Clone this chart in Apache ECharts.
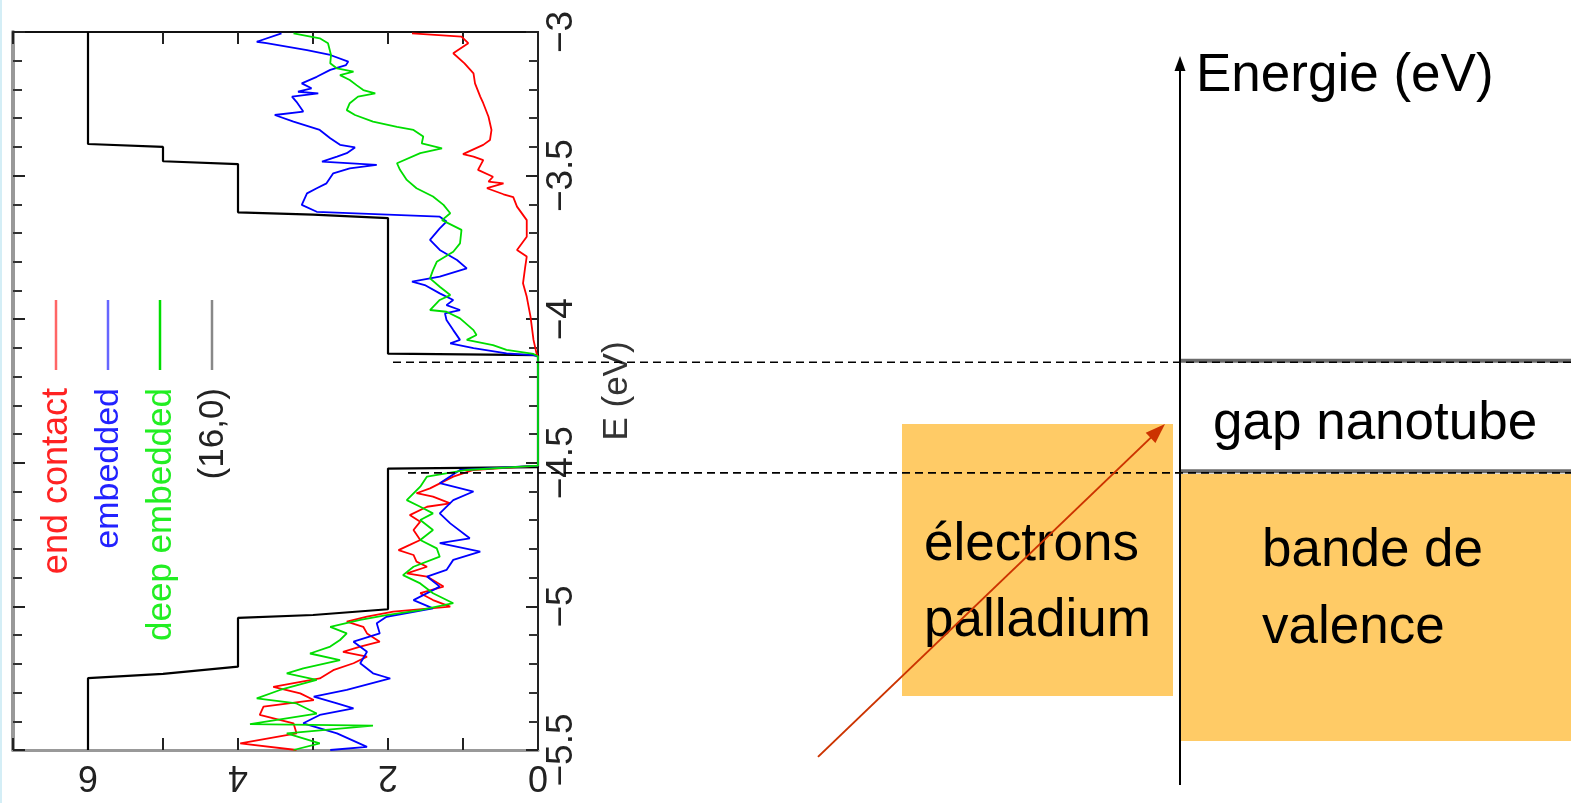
<!DOCTYPE html>
<html><head><meta charset="utf-8">
<script src="https://cdn.jsdelivr.net/npm/echarts@6/dist/echarts.min.js"></script>
<style>html,body{margin:0;padding:0;background:#fff}#c{width:1571px;height:803px}</style>
</head><body><div id="c"></div>
<script>
// ---- data ----
const energyRange = [-5.5, -3];
const dosRange = [0, 7];
const seriesNames = ['end contact', 'embedded', 'deep embedded', '(16,0)'];
const seriesColors = ['#ff0000', '#0000ff', '#00dd00', '#000000'];

// (16,0) nanotube step DOS: [DOS, E]
const tube16_0 = [[6,-3],[6,-3.39],[5,-3.40],[5,-3.45],[4,-3.46],[4,-3.628],[3,-3.636],[2,-3.648],[2,-4.12],[0,-4.125],[0,-4.515],[2,-4.52],[2,-5.01],[3,-5.03],[4,-5.04],[4,-5.21],[5,-5.235],[6,-5.25],[6,-5.5]];

const endContact = [[1.68,-3.005],[1.02,-3.016],[0.93,-3.039],[1.13,-3.074],[0.98,-3.109],[0.86,-3.144],[0.84,-3.179],[0.77,-3.225],[0.73,-3.248],[0.66,-3.295],[0.62,-3.341],[0.64,-3.376],[0.73,-3.393],[1.00,-3.425],[0.86,-3.434],[0.73,-3.446],[0.80,-3.480],[0.60,-3.504],[0.66,-3.521],[0.46,-3.527],[0.68,-3.544],[0.46,-3.565],[0.33,-3.575],[0.28,-3.608],[0.15,-3.655],[0.15,-3.713],[0.28,-3.759],[0.15,-3.782],[0.17,-3.817],[0.20,-3.875],[0.15,-3.922],[0.10,-3.991],[0.06,-4.072],[0.02,-4.119],[0,-4.13],[0,-4.51],
  [0.86,-4.525],[1.13,-4.548],[1.44,-4.589],[1.62,-4.606],[1.40,-4.618],[1.17,-4.641],[1.48,-4.653],[1.71,-4.682],[1.57,-4.705],[1.66,-4.734],[1.57,-4.769],[1.71,-4.786],[1.86,-4.804],[1.66,-4.821],[1.62,-4.844],[1.48,-4.862],[1.75,-4.885],[1.48,-4.896],[1.26,-4.931],[1.57,-4.954],[1.40,-4.978],[1.17,-5.001],[1.93,-5.018],[2.28,-5.036],[2.55,-5.053],[2.33,-5.071],[2.28,-5.094],[2.11,-5.123],[2.37,-5.140],[2.60,-5.158],[2.28,-5.175],[2.46,-5.198],[2.73,-5.222],[2.91,-5.251],[3.53,-5.280],[3.17,-5.303],[2.99,-5.326],[3.66,-5.349],[3.71,-5.378],[3.26,-5.407],[3.22,-5.442],[3.97,-5.477],[3.22,-5.500]];

const embedded = [[3.42,-3.005],[3.75,-3.034],[3.62,-3.039],[3.08,-3.063],[2.77,-3.080],[2.53,-3.103],[2.56,-3.115],[2.77,-3.132],[2.95,-3.156],[3.15,-3.179],[3.02,-3.196],[3.20,-3.208],[2.93,-3.214],[3.28,-3.225],[3.22,-3.243],[3.13,-3.277],[3.51,-3.289],[3.26,-3.312],[2.91,-3.341],[2.77,-3.370],[2.64,-3.393],[2.44,-3.402],[2.55,-3.422],[2.68,-3.434],[2.88,-3.451],[2.15,-3.463],[2.51,-3.475],[2.73,-3.492],[2.82,-3.527],[2.95,-3.544],[3.08,-3.562],[3.15,-3.602],[2.95,-3.626],[1.31,-3.643],[1.22,-3.660],[1.31,-3.684],[1.44,-3.724],[1.31,-3.759],[1.08,-3.794],[0.95,-3.823],[1.31,-3.852],[1.68,-3.869],[1.51,-3.881],[1.31,-3.910],[1.13,-3.933],[1.22,-3.951],[1.04,-3.968],[1.24,-3.980],[1.22,-4.003],[1.13,-4.038],[1.04,-4.072],[1.17,-4.084],[0.86,-4.101],[0.42,-4.119],[0.06,-4.125],[0,-4.13],[0,-4.51],
  [1.04,-4.525],[1.31,-4.571],[0.86,-4.600],[1.13,-4.630],[1.31,-4.676],[1.17,-4.711],[0.91,-4.763],[1.31,-4.780],[0.77,-4.809],[1.13,-4.838],[1.22,-4.873],[1.48,-4.896],[1.31,-4.931],[1.66,-4.978],[1.40,-5.007],[2.02,-5.036],[2.15,-5.059],[2.11,-5.094],[2.46,-5.123],[2.28,-5.158],[2.37,-5.198],[2.20,-5.233],[1.97,-5.251],[2.55,-5.291],[2.99,-5.314],[2.68,-5.338],[2.46,-5.355],[2.91,-5.378],[3.13,-5.407],[2.68,-5.442],[2.28,-5.489],[2.77,-5.500]];

const deepEmbedded = [[3.26,-3.005],[2.91,-3.022],[2.80,-3.039],[2.76,-3.080],[2.77,-3.109],[2.68,-3.127],[2.46,-3.138],[2.64,-3.150],[2.51,-3.167],[2.42,-3.185],[2.33,-3.202],[2.17,-3.214],[2.40,-3.225],[2.51,-3.248],[2.55,-3.272],[2.44,-3.289],[2.20,-3.312],[1.88,-3.330],[1.66,-3.341],[1.53,-3.364],[1.55,-3.388],[1.28,-3.405],[1.57,-3.422],[1.88,-3.457],[1.84,-3.480],[1.75,-3.515],[1.62,-3.544],[1.40,-3.573],[1.26,-3.602],[1.17,-3.631],[1.28,-3.655],[1.02,-3.689],[1.04,-3.736],[1.13,-3.765],[1.35,-3.800],[1.40,-3.829],[1.44,-3.858],[1.31,-3.887],[1.17,-3.916],[1.31,-3.933],[1.44,-3.968],[1.22,-3.974],[1.04,-3.997],[0.86,-4.038],[0.82,-4.055],[0.95,-4.072],[0.60,-4.090],[0.42,-4.107],[0.06,-4.121],[0,-4.13],[0,-4.51],
  [0.95,-4.525],[1.48,-4.548],[1.57,-4.583],[1.75,-4.630],[1.57,-4.653],[1.40,-4.676],[1.57,-4.699],[1.40,-4.734],[1.57,-4.769],[1.35,-4.798],[1.31,-4.827],[1.66,-4.862],[1.80,-4.891],[1.57,-4.920],[1.40,-4.954],[1.13,-4.989],[1.57,-5.013],[2.02,-5.030],[2.37,-5.047],[2.77,-5.071],[2.55,-5.094],[2.64,-5.117],[2.77,-5.140],[3.04,-5.164],[2.64,-5.187],[3.13,-5.216],[3.35,-5.233],[2.95,-5.256],[3.44,-5.291],[3.75,-5.320],[3.22,-5.338],[2.95,-5.373],[3.84,-5.410],[2.20,-5.415],[3.35,-5.442],[2.91,-5.477],[3.26,-5.500]];

// schematic energies (eV)
const gapEdges = [-4.15, -4.535];           // dashed lines: nanotube gap
const palladiumBox = [-4.365, -5.312];       // top (Fermi level), bottom
const valenceBox = [-4.539, -5.469];
const arrowEnergies = [-5.524, -4.365];      // red arrow start / end
const diagramTexts = ['Energie (eV)', 'gap nanotube', 'électrons', 'palladium', 'bande de', 'valence'];

// ---- chart ----
const FONT = '"Liberation Sans", Arial, Helvetica, sans-serif';
const chart = echarts.init(document.getElementById('c'));
const fmtE = v => String(v).replace('-', '\u2212');
const tickStyle = {color: '#222', width: 2};

const option = {
  animation: false,
  backgroundColor: '#fff',
  grid: {left: 13, top: 32, width: 525, height: 718, containLabel: false, outerBoundsMode: 'none'},
  xAxis: [
    {type: 'value', position: 'bottom', min: dosRange[0], max: dosRange[1], interval: 1, inverse: true,
      axisLine: {show: true, onZero: false, lineStyle: {color: '#999', width: 3}},
      axisTick: {show: true, inside: true, length: 12, lineStyle: tickStyle},
      axisLabel: {rotate: 180, fontSize: 36, fontFamily: FONT, color: '#222', margin: 8,
        formatter: v => (v % 2 === 0) ? String(v) : ''},
      splitLine: {show: false}},
    {type: 'value', position: 'top', min: dosRange[0], max: dosRange[1], interval: 1, inverse: true,
      axisLine: {show: true, onZero: false, lineStyle: {color: '#111', width: 2}},
      axisTick: {show: true, inside: true, length: 12, lineStyle: tickStyle},
      axisLabel: {show: false}, splitLine: {show: false}}
  ],
  yAxis: [
    {type: 'value', position: 'right', min: energyRange[0], max: energyRange[1], interval: 0.5,
      axisLine: {show: true, onZero: false, lineStyle: {color: '#222', width: 2}},
      axisTick: {show: true, inside: true, length: 12, lineStyle: tickStyle},
      minorTick: {show: true, splitNumber: 5, length: 9, lineStyle: {color: '#333', width: 2}},
      axisLabel: {rotate: 90, fontSize: 37, fontFamily: FONT, color: '#222', margin: 5, formatter: fmtE},
      name: 'E (eV)', nameLocation: 'middle', nameRotate: 90, nameGap: 62,
      nameTextStyle: {fontSize: 35, fontFamily: FONT, color: '#333'},
      splitLine: {show: false}},
    {type: 'value', position: 'left', min: energyRange[0], max: energyRange[1], interval: 0.5,
      axisLine: {show: true, onZero: false, lineStyle: {color: '#999', width: 4}},
      axisTick: {show: true, inside: true, length: 12, lineStyle: tickStyle},
      minorTick: {show: true, splitNumber: 5, length: 9, lineStyle: {color: '#333', width: 2}},
      axisLabel: {show: false}, splitLine: {show: false}}
  ],
  series: [
    {name: seriesNames[3], type: 'line', data: tube16_0, showSymbol: false, symbol: 'none',
      lineStyle: {color: seriesColors[3], width: 2.2}, z: 2},
    {name: seriesNames[0], type: 'line', data: endContact, showSymbol: false, symbol: 'none',
      lineStyle: {color: seriesColors[0], width: 1.8}, z: 3},
    {name: seriesNames[1], type: 'line', data: embedded, showSymbol: false, symbol: 'none',
      lineStyle: {color: seriesColors[1], width: 1.8}, z: 4},
    {name: seriesNames[2], type: 'line', data: deepEmbedded, showSymbol: false, symbol: 'none',
      lineStyle: {color: seriesColors[2], width: 1.8}, z: 5}
  ]
};
chart.setOption(option);

// ---- overlay (legend + schematic) ----
const yPix = v => chart.convertToPixel({yAxisIndex: 0}, v);
const g = [];
g.push({type: 'rect', shape: {x: 0, y: 0, width: 2, height: 803}, style: {fill: '#d4eef6'}, z: 50});

// legend (rotated)
const legendX = [56, 108, 160, 212];
const legendLineColors = ['#ff6666', '#6666ff', '#00dd00', '#888888'];
const legendTextColors = ['#ff2222', '#2222ff', '#22ee22', '#222222'];
const legendFont = [36, 34, 35, 35];
[0, 1, 2, 3].forEach((si, i) => {
  const x = legendX[i];
  g.push({type: 'line', shape: {x1: x, y1: 300, x2: x, y2: 370}, style: {stroke: legendLineColors[i], lineWidth: 2.5}, z: 60});
  g.push({type: 'text', x: x + 1, y: 388, rotation: Math.PI / 2,
    style: {text: seriesNames[si], fill: legendTextColors[i], font: legendFont[i] + 'px ' + FONT, align: 'right', verticalAlign: 'middle'}, z: 60});
});

// schematic boxes
const boxColor = '#ffcb66';
g.push({type: 'rect', shape: {x: 902, y: yPix(palladiumBox[0]), width: 271, height: yPix(palladiumBox[1]) - yPix(palladiumBox[0])}, style: {fill: boxColor}, z: 40});
g.push({type: 'rect', shape: {x: 1181, y: yPix(valenceBox[0]), width: 390, height: yPix(valenceBox[1]) - yPix(valenceBox[0])}, style: {fill: boxColor}, z: 40});
gapEdges.forEach(e => {
  const y = yPix(e) - 1.5;
  g.push({type: 'line', shape: {x1: 1180, y1: y, x2: 1571, y2: y}, style: {stroke: '#6b6b6b', lineWidth: 4}, z: 41});
});
const dashStart = [393, 408];
gapEdges.forEach((e, i) => {
  const y = yPix(e);
  g.push({type: 'line', shape: {x1: dashStart[i], y1: y, x2: 1571, y2: y}, style: {stroke: '#000', lineWidth: 1.6, lineDash: [8, 5]}, z: 45});
});
g.push({type: 'line', shape: {x1: 1180, y1: 785, x2: 1180, y2: 66}, style: {stroke: '#000', lineWidth: 2}, z: 46});
g.push({type: 'polygon', shape: {points: [[1180, 56], [1174.5, 71], [1185.5, 71]]}, style: {fill: '#000'}, z: 46});

// texts
const txt = (t, x, baseline) => g.push({type: 'text', x: x, y: baseline - 16.5,
  style: {text: t, fill: '#000', font: '53px ' + FONT, align: 'left', verticalAlign: 'middle'}, z: 47});
txt(diagramTexts[0], 1196, 93);
txt(diagramTexts[1], 1213, 441);
txt(diagramTexts[2], 924, 562);
txt(diagramTexts[3], 924, 638);
txt(diagramTexts[4], 1262, 568);
txt(diagramTexts[5], 1262, 645);

// red arrow
const ax0 = 818, ax1 = 1165;
const ay0 = yPix(arrowEnergies[0]), ay1 = yPix(arrowEnergies[1]);
const dx = ax1 - ax0, dy = ay1 - ay0, L = Math.hypot(dx, dy);
const ux = dx / L, uy = dy / L, nx = -uy, ny = ux;
const hl = 20, hw = 7;
g.push({type: 'line', shape: {x1: ax0, y1: ay0, x2: ax1 - ux * hl * 0.8, y2: ay1 - uy * hl * 0.8}, style: {stroke: '#cc3300', lineWidth: 2}, z: 48});
g.push({type: 'polygon', shape: {points: [[ax1, ay1], [ax1 - ux * hl + nx * hw, ay1 - uy * hl + ny * hw], [ax1 - ux * hl - nx * hw, ay1 - uy * hl - ny * hw]]}, style: {fill: '#cc3300'}, z: 48});

chart.setOption({graphic: g});
</script>
</body></html>
